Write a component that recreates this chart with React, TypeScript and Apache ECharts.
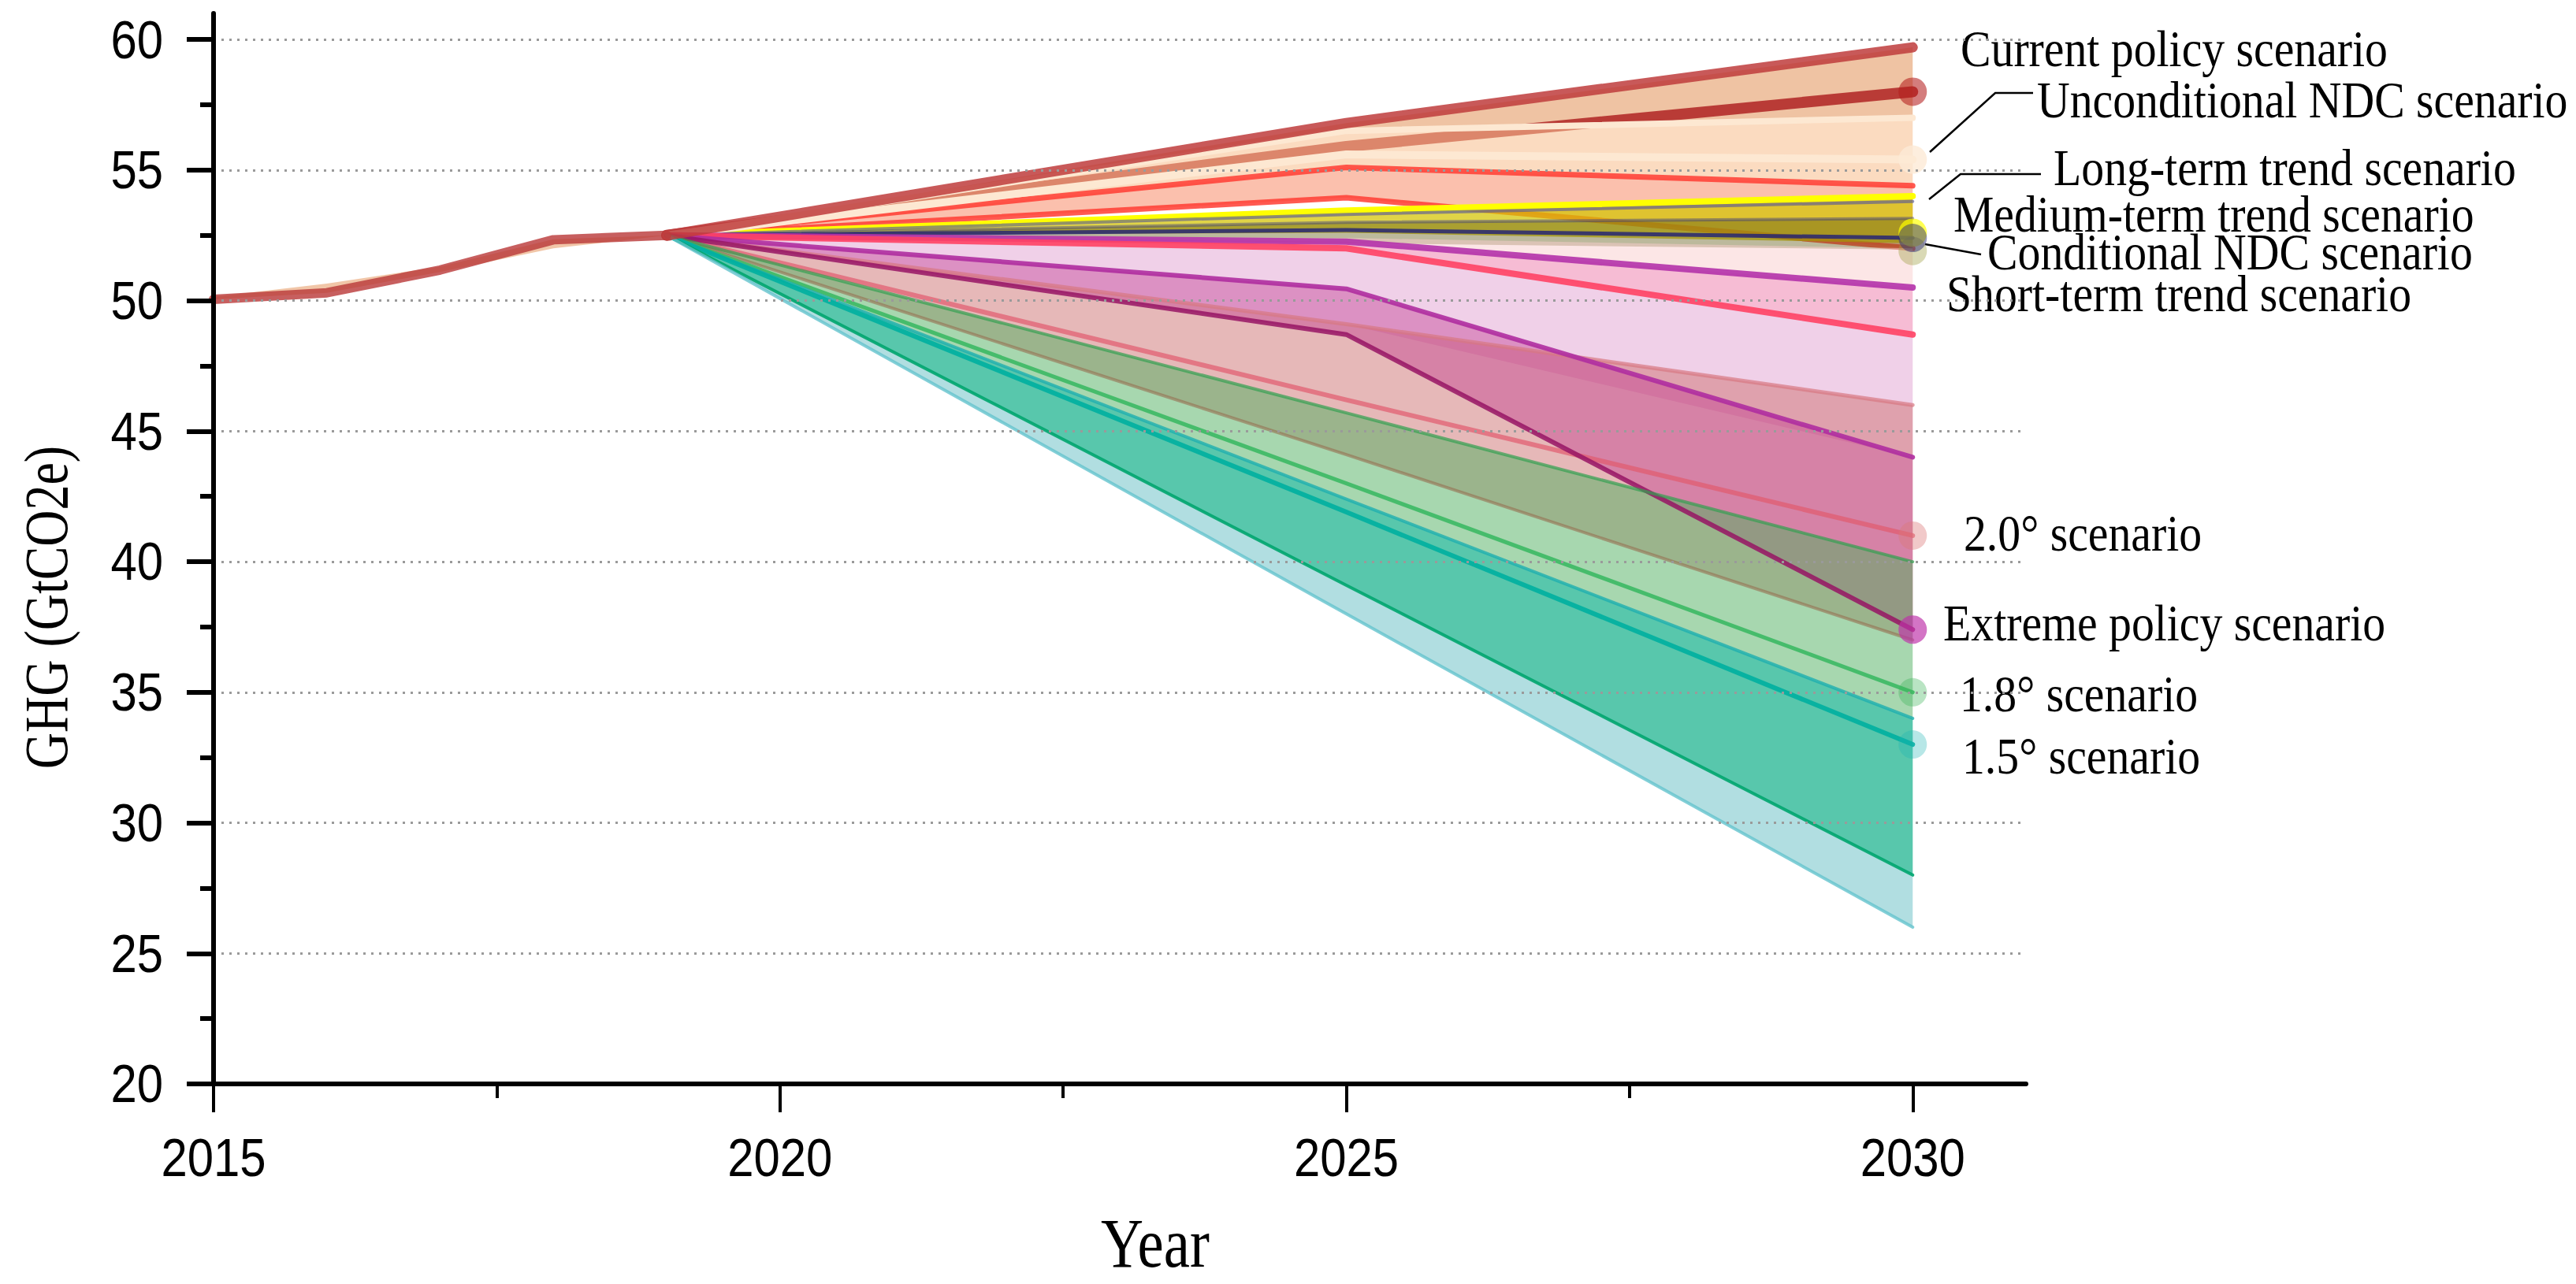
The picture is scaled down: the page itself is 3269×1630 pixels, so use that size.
import React, { useEffect, useRef } from "react";
import * as echarts from "echarts";

// ---------- data ----------
const histYears = [2015, 2016, 2017, 2018, 2019];
const histValues = [50.05, 50.3, 51.17, 52.33, 52.5];
const histBandLow = [50.05, 50.3, 51.1, 52.0, 52.5];
const histBandHigh = [50.15, 50.65, 51.3, 52.35, 52.5];

const projYears = [2019, 2025, 2030];

const currentPolicyLow = [52.5, 56.5, 57.0];
const currentPolicyHigh = [52.5, 56.8, 59.7];
const currentPolicyMid = [52.5, 55.9, 58.0];
const uncondNdcLow = [52.5, 55.1, 54.4];
const uncondNdcHigh = [52.5, 56.5, 57.0];
const uncondNdcMid = [52.5, 55.6, 55.4];
const longTermLow = [52.5, 53.94, 52.0];
const longTermHigh = [52.5, 55.1, 54.4];
const mediumTermLow = [52.5, 52.6, 52.2];
const mediumTermHigh = [52.5, 53.45, 54.0];
const mediumTermMid = [52.5, 53.3, 53.8];
const condNdcLow = [52.5, 52.2, 51.95];
const condNdcHigh = [52.5, 53.0, 53.15];
const condNdcMid = [52.5, 52.7, 52.4];
const shortTermOuterLow = [52.5, 52.26, 50.5];
const shortTermOuterHigh = [52.5, 52.4, 52.0];
const shortTermLow = [52.5, 52.0, 48.7];
const shortTermHigh = [52.5, 52.26, 50.5];
const shortTermWideLow = [52.5, 49.1, 44.0];
const shortTermWideHigh = [52.5, 52.0, 48.7];
const twoDegLow = [52.5, 44.1, 37.0];
const twoDegHigh = [52.5, 49.1, 46.0];
const twoDegMid = [52.5, 46.2, 41.0];
const extremeLow = [52.5, 48.7, 37.4];
const extremeHigh = [52.5, 50.45, 44.0];
const oneEightLow = [52.5, 42.4, 34.0];
const oneEightHigh = [52.5, 45.7, 40.0];
const oneEightMid = [52.5, 43.0, 35.0];
const oneFiveLow = [52.5, 38.0, 26.0];
const oneFiveHigh = [52.5, 42.4, 34.0];
const oneFiveInnerLow = [52.5, 39.1, 28.0];
const oneFiveMid = [52.5, 41.9, 33.0];

const dotYear = 2030;
const dotValues = [58.0, 55.4, 52.6, 51.9, 52.4, 41.0, 37.4, 35.0, 33.0];

const xMajorTicks = [2015, 2020, 2025, 2030];
const xMinorTicks = [2017.5, 2022.5, 2027.5];
const yMajorTicks = [20, 25, 30, 35, 40, 45, 50, 55, 60];
const yMinorTicks = [22.5, 27.5, 32.5, 37.5, 42.5, 47.5, 52.5, 57.5];

const scenarioLabels = [
  "Current policy scenario",
  "Unconditional NDC scenario",
  "Long-term trend scenario",
  "Medium-term trend scenario",
  "Conditional NDC scenario",
  "Short-term trend scenario",
  "2.0\u00b0 scenario",
  "Extreme policy scenario",
  "1.8\u00b0 scenario",
  "1.5\u00b0 scenario",
];

// ---------- styling ----------
const labelPos = [
  [2488, 62], [2585, 127], [2606, 213], [2479, 272], [2522, 320],
  [2470, 373], [2492, 677], [2466, 791], [2487, 881], [2490, 960],
];
const dotColors = [
  "rgba(180,30,30,0.72)", "rgba(253,234,214,1)", "rgba(255,255,0,0.85)",
  "rgba(160,160,70,0.5)", "rgba(40,40,120,0.6)", "rgba(220,120,120,0.5)",
  "rgba(190,50,170,0.85)", "rgba(60,180,90,0.45)", "rgba(30,180,180,0.4)",
];

const SANS = "'Liberation Sans Narrow', 'Arial Narrow', 'Liberation Sans', Arial, sans-serif";
const SERIF = "'Liberation Serif', 'Times New Roman', serif";

let zc = 2;
function band(name: string, xs: number[], low: number[], high: number[], color: string) {
  const data = xs.map((x, i) => [x, low[i], high[i]]);
  return {
    type: "custom",
    name,
    data,
    encode: { x: 0, y: [1, 2] },
    silent: true,
    z: zc++,
    renderItem: (params: any, api: any) => {
      if (params.dataIndex !== 0) return null;
      const pts: number[][] = [];
      for (let i = 0; i < xs.length; i++) pts.push(api.coord([xs[i], high[i]]));
      for (let i = xs.length - 1; i >= 0; i--) pts.push(api.coord([xs[i], low[i]]));
      return { type: "polygon", shape: { points: pts }, style: { fill: color } };
    },
  };
}
function line(name: string, xs: number[], ys: number[], color: string, width: number) {
  return {
    type: "line",
    name,
    data: xs.map((x, i) => [x, ys[i]]),
    showSymbol: false,
    symbol: "none",
    silent: true,
    z: zc++,
    lineStyle: { color, width, cap: "round", join: "round" },
    emphasis: { disabled: true },
  };
}

export default function App() {
  const ref = useRef<HTMLDivElement>(null);
  useEffect(() => {
    if (!ref.current) return;
    const chart = echarts.init(ref.current, undefined, { renderer: "svg" });
    zc = 2;
    const series: any[] = [
      band("hist band", histYears, histBandLow, histBandHigh, "rgba(232,160,110,0.6)"),
      band("Current policy", projYears, currentPolicyLow, currentPolicyHigh, "rgba(228,155,102,0.6)"),
      line("Current policy mid", projYears, currentPolicyMid, "rgba(175,35,35,0.85)", 14),
      band("Unconditional NDC", projYears, uncondNdcLow, uncondNdcHigh, "rgba(247,190,140,0.55)"),
      band("Long-term trend", projYears, longTermLow, longTermHigh, "rgba(248,140,105,0.55)"),
      line("Long-term low", projYears, longTermLow, "rgba(255,60,50,0.85)", 7),
      band("Medium-term trend", projYears, mediumTermLow, mediumTermHigh, "rgba(212,196,0,0.72)"),
      band("Conditional NDC", projYears, condNdcLow, condNdcHigh, "rgba(95,88,20,0.42)"),
      band("Short-term outer", projYears, shortTermOuterLow, shortTermOuterHigh, "rgba(250,205,205,0.5)"),
      band("Short-term trend", projYears, shortTermLow, shortTermHigh, "rgba(239,133,177,0.55)"),
      band("Short-term wide", projYears, shortTermWideLow, shortTermWideHigh, "rgba(225,161,209,0.5)"),
      band("2.0", projYears, twoDegLow, twoDegHigh, "rgba(205,113,113,0.5)"),
      band("Extreme policy", projYears, extremeLow, extremeHigh, "rgba(190,50,140,0.4)"),
      band("1.8", projYears, oneEightLow, oneEightHigh, "rgba(80,175,95,0.5)"),
      band("1.5", projYears, oneFiveLow, oneFiveHigh, "rgba(100,190,195,0.5)"),
      band("1.5 inner", projYears, oneFiveInnerLow, oneFiveHigh, "rgba(0,175,120,0.5)"),
      line("Long-term high", projYears, longTermHigh, "rgba(255,60,50,0.85)", 7),
      line("Medium-term high", projYears, mediumTermHigh, "#ffff00", 8),
      line("Medium-term mid", projYears, mediumTermMid, "rgba(90,90,150,0.65)", 4),
      line("Conditional high", projYears, condNdcHigh, "rgba(60,60,130,0.45)", 4),
      line("Conditional mid", projYears, condNdcMid, "rgba(30,30,120,0.8)", 5),
      line("Unconditional high", projYears, uncondNdcHigh, "rgba(253,232,210,1)", 8),
      line("Unconditional mid", projYears, uncondNdcMid, "rgba(253,232,210,1)", 10),
      line("Short-term high", projYears, shortTermHigh, "rgba(180,50,170,0.9)", 8),
      line("Short-term low", projYears, shortTermLow, "rgba(255,65,100,0.9)", 8),
      line("2.0 high", projYears, twoDegHigh, "rgba(215,120,130,0.7)", 5),
      line("2.0 mid", projYears, twoDegMid, "rgba(225,90,110,0.7)", 6),
      line("2.0 low", projYears, twoDegLow, "rgba(150,110,80,0.6)", 4),
      line("Extreme high", projYears, extremeHigh, "rgba(175,45,160,0.9)", 6),
      line("Extreme low", projYears, extremeLow, "rgba(150,20,100,0.85)", 6),
      line("1.8 high", projYears, oneEightHigh, "rgba(50,160,80,0.7)", 4),
      line("1.8 mid", projYears, oneEightMid, "rgba(60,185,100,0.9)", 5),
      line("1.5 high", projYears, oneFiveHigh, "rgba(30,175,175,0.8)", 4),
      line("1.5 mid", projYears, oneFiveMid, "rgba(0,175,160,0.9)", 6),
      line("1.5 inner low", projYears, oneFiveInnerLow, "rgba(0,165,110,0.9)", 4),
      line("1.5 low", projYears, oneFiveLow, "rgba(100,195,205,0.8)", 4),
      line("History", histYears, histValues, "rgba(185,55,55,0.8)", 12),
      line("Current policy high", projYears, currentPolicyHigh, "rgba(190,60,60,0.85)", 13),
      {
        type: "scatter",
        name: "dots",
        silent: true,
        z: zc++,
        symbolSize: 36,
        data: dotValues.map((v, i) => ({ value: [dotYear, v], itemStyle: { color: dotColors[i] } })),
      },
    ];

    const graphics: any[] = [];
    scenarioLabels.forEach((t, i) => {
      graphics.push({
        type: "text",
        x: labelPos[i][0],
        y: labelPos[i][1],
        scaleX: 0.875,
        style: { text: t, font: `66px ${SERIF}`, fill: "#000", textAlign: "left", verticalAlign: "middle" },
      });
    });
    const leaders = [
      [[2449, 193], [2532, 118], [2580, 118]],
      [[2448, 253], [2488, 221], [2590, 221]],
      [[2443, 310], [2514, 323]],
    ];
    leaders.forEach((p) =>
      graphics.push({ type: "polyline", shape: { points: p }, style: { stroke: "#000", lineWidth: 2.5, fill: null } })
    );
    graphics.push({
      type: "text",
      x: 58,
      y: 771,
      rotation: Math.PI / 2,
      scaleX: 0.82,
      style: { text: "GHG (GtCO2e)", font: `78px ${SERIF}`, fill: "#000", textAlign: "center", verticalAlign: "middle" },
    });
    graphics.push({
      type: "text",
      x: 1466,
      y: 1578,
      scaleX: 0.85,
      style: { text: "Year", font: `88px ${SERIF}`, fill: "#000", textAlign: "center", verticalAlign: "middle" },
    });

    const splitColors = yMajorTicks.map(() => "#9a9a9a").concat(["rgba(0,0,0,0)"]);

    chart.setOption({
      animation: false,
      backgroundColor: "#fff",
      grid: { left: 271, right: 698, top: 17, bottom: 254, containLabel: false, outerBoundsMode: "none" },
      xAxis: [
        {
          type: "value",
          min: 2015,
          max: 2031,
          position: "bottom",
          z: 100,
          axisLine: { show: true, onZero: false, lineStyle: { color: "#000", width: 6 } },
          axisTick: { show: true, customValues: xMajorTicks, length: 36, lineStyle: { color: "#000", width: 4 } },
          axisLabel: { show: false },
          splitLine: { show: false },
        },
        {
          type: "value",
          min: 2015,
          max: 2031,
          position: "bottom",
          z: 100,
          axisLine: { show: false, onZero: false },
          axisTick: { show: true, customValues: xMinorTicks, length: 18, lineStyle: { color: "#000", width: 4 } },
          axisLabel: { show: false },
          splitLine: { show: false },
        },
      ],
      yAxis: [
        {
          type: "value",
          min: 20,
          max: 61,
          interval: 5,
          z: 100,
          axisLine: { show: true, onZero: false, lineStyle: { color: "#000", width: 6 } },
          axisTick: { show: true, customValues: yMajorTicks, length: 34, lineStyle: { color: "#000", width: 6 } },
          axisLabel: { show: false },
          splitLine: { show: true, lineStyle: { color: splitColors, type: [3, 7], width: 3 } },
        },
        {
          type: "value",
          min: 20,
          max: 61,
          interval: 5,
          z: 100,
          position: "left",
          axisLine: { show: false, onZero: false },
          axisTick: { show: true, customValues: yMinorTicks, length: 17, lineStyle: { color: "#000", width: 6 } },
          axisLabel: { show: false },
          splitLine: { show: false },
        },
      ],
      series,
      graphic: graphics,
    });

    // tick labels placed through the axis scales (condensed like the original)
    const tickLabels: any[] = [];
    const baseY = chart.convertToPixel({ yAxisIndex: 0 }, 20) as number;
    const baseX = chart.convertToPixel({ xAxisIndex: 0 }, 2015) as number;
    xMajorTicks.forEach((v) => {
      const px = chart.convertToPixel({ xAxisIndex: 0 }, v) as number;
      tickLabels.push({
        type: "text",
        x: px,
        y: baseY + 94,
        scaleX: 0.88,
        style: { text: String(v), font: `68px ${SANS}`, fill: "#000", textAlign: "center", verticalAlign: "middle" },
      });
    });
    yMajorTicks.forEach((v) => {
      const py = chart.convertToPixel({ yAxisIndex: 0 }, v) as number;
      tickLabels.push({
        type: "text",
        x: baseX - 64,
        y: py,
        scaleX: 0.88,
        style: { text: String(v), font: `68px ${SANS}`, fill: "#000", textAlign: "right", verticalAlign: "middle" },
      });
    });
    chart.setOption({ graphic: graphics.concat(tickLabels) });

    return () => chart.dispose();
  }, []);
  return (
    <div
      ref={ref}
      style={{ position: "fixed", left: 0, top: 0, width: 3269, height: 1630, background: "#fff" }}
    />
  );
}
